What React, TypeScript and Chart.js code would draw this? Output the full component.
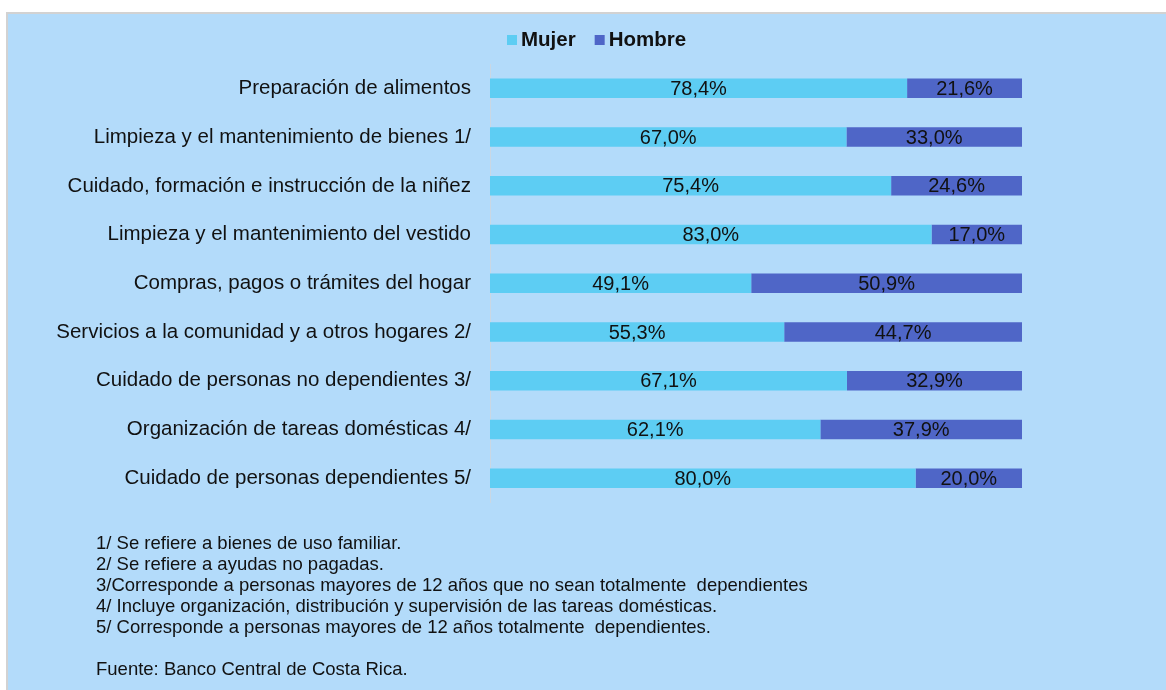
import React, { useEffect, useRef } from "react";
import { Chart, registerables } from "chart.js";

Chart.register(...registerables);

const categories = [
  "Preparación de alimentos",
  "Limpieza y el mantenimiento de bienes 1/",
  "Cuidado, formación e instrucción de la niñez",
  "Limpieza y el mantenimiento del vestido",
  "Compras, pagos o trámites del hogar",
  "Servicios a la comunidad y a otros hogares 2/",
  "Cuidado de personas no dependientes 3/",
  "Organización de tareas domésticas 4/",
  "Cuidado de personas dependientes 5/",
];

const mujer = [78.4, 67.0, 75.4, 83.0, 49.1, 55.3, 67.1, 62.1, 80.0];
const hombre = [21.6, 33.0, 24.6, 17.0, 50.9, 44.7, 32.9, 37.9, 20.0];

const seriesNames = ["Mujer", "Hombre"];
const seriesColors = ["#5DCDF3", "#4F66C7"];

const footnotes = [
  "1/ Se refiere a bienes de uso familiar.",
  "2/ Se refiere a ayudas no pagadas.",
  "3/Corresponde a personas mayores de 12 años que no sean totalmente  dependientes",
  "4/ Incluye organización, distribución y supervisión de las tareas domésticas.",
  "5/ Corresponde a personas mayores de 12 años totalmente  dependientes.",
  "",
  "Fuente: Banco Central de Costa Rica.",
];

const FONT = "'Liberation Sans', Arial, Helvetica, sans-serif";
const fmt = (v: number) => v.toFixed(1).replace(".", ",") + "%";

const labelsPlugin = {
  id: "barLabels",
  afterDatasetsDraw(chart: any) {
    const ctx = chart.ctx;
    ctx.save();
    ctx.font = `20px ${FONT}`;
    ctx.fillStyle = "#111111";
    ctx.textAlign = "center";
    ctx.textBaseline = "middle";
    chart.data.datasets.forEach((ds: any, i: number) => {
      const meta = chart.getDatasetMeta(i);
      meta.data.forEach((bar: any, j: number) => {
        const p = bar.getProps(["x", "base", "y"], true);
        ctx.fillText(fmt(ds.data[j]), (p.x + p.base) / 2, p.y + 1);
      });
    });
    ctx.restore();
  },
};

const legendPlugin = {
  id: "customLegend",
  afterDraw(chart: any) {
    const ctx = chart.ctx;
    ctx.save();
    ctx.font = `bold 20.5px ${FONT}`;
    ctx.textBaseline = "middle";
    ctx.textAlign = "left";
    const cy = 26;
    let x = 499;
    chart.data.datasets.forEach((ds: any) => {
      ctx.fillStyle = ds.backgroundColor;
      ctx.fillRect(x, cy - 5, 10, 10);
      ctx.fillStyle = "#111111";
      ctx.fillText(ds.label, x + 14, cy);
      x += 14 + ctx.measureText(ds.label).width + 19;
    });
    ctx.restore();
  },
};

export default function App() {
  const ref = useRef<HTMLCanvasElement | null>(null);

  useEffect(() => {
    if (!ref.current) return;
    const chart = new Chart(ref.current, {
      type: "bar",
      data: {
        labels: categories,
        datasets: [
          { label: seriesNames[0], data: mujer, backgroundColor: seriesColors[0] },
          { label: seriesNames[1], data: hombre, backgroundColor: seriesColors[1] },
        ],
      },
      options: {
        indexAxis: "y",
        responsive: false,
        animation: false,
        devicePixelRatio: 1,
        layout: { padding: { top: 50, bottom: 12, left: 0, right: 144 } },
        datasets: { bar: { categoryPercentage: 1, barPercentage: 0.4 } } as any,
        plugins: {
          legend: { display: false },
          tooltip: { enabled: false },
        },
        scales: {
          x: { stacked: true, min: 0, max: 100, display: false },
          y: {
            stacked: true,
            afterFit: (scale: any) => {
              scale.width = 482;
            },
            grid: { display: false, drawTicks: false },
            border: { display: true, color: "#C9D7E4", width: 1 },
            ticks: {
              padding: 19,
              color: "#111111",
              font: { family: FONT, size: 20.5 },
            },
          },
        },
      },
      plugins: [labelsPlugin, legendPlugin],
    });
    return () => chart.destroy();
  }, []);

  return (
    <div
      style={{
        position: "absolute",
        left: 6,
        top: 12,
        width: 1158,
        height: 676,
        background: "#B3DBFA",
        borderTop: "2px solid #D2D2D2",
        borderLeft: "2px solid #D2D2D2",
        overflow: "hidden",
      }}
    >
      <canvas
        ref={ref}
        width={1158}
        height={520}
        style={{ position: "absolute", left: 0, top: 0, width: 1158, height: 520 }}
      />
      <div
        style={{
          position: "absolute",
          left: 88,
          top: 518,
          fontFamily: FONT,
          fontSize: 18.5,
          lineHeight: "21px",
          color: "#111111",
          whiteSpace: "pre",
        }}
      >
        {footnotes.map((t, i) => (
          <div key={i} style={{ height: 21 }}>
            {t}
          </div>
        ))}
      </div>
    </div>
  );
}
